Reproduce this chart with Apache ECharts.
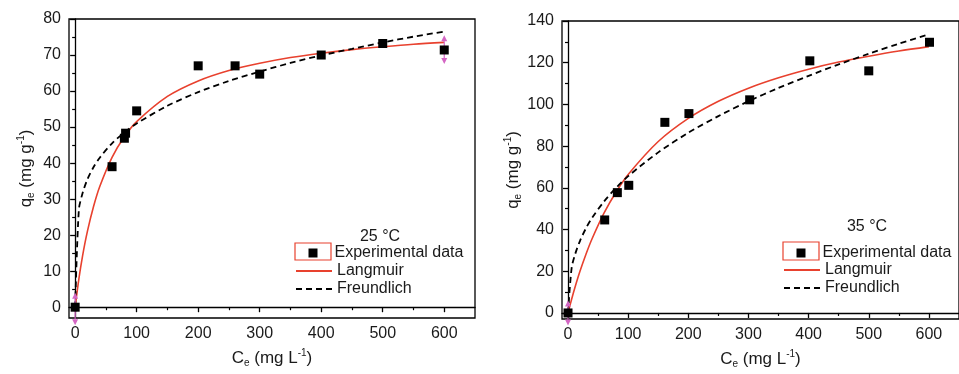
<!DOCTYPE html>
<html><head><meta charset="utf-8">
<script src="https://cdn.jsdelivr.net/npm/echarts@6/dist/echarts.min.js"></script>
<style>html,body{margin:0;padding:0;background:#fff}#c{width:959px;height:374px}</style>
</head><body><div id="c"></div>
<script>
// ---- 25 °C ----
const expX25 = [0, 60, 80, 82, 100, 200, 260, 300, 400, 500, 600];
const expY25 = [0, 39.0, 46.9, 48.3, 54.5, 67.0, 67.0, 64.7, 70.0, 73.2, 71.4];
const fitX = [0, 6, 12, 20, 30, 40, 60, 80, 100, 150, 200, 250, 300, 350, 400, 450, 500, 550, 600];
const lang25 = [0, 7.8, 14.2, 21.1, 28.0, 33.5, 41.6, 47.3, 51.5, 58.5, 62.8, 65.7, 67.7, 69.3, 70.5, 71.5, 72.3, 73.0, 73.5];
const freu25 = [0, 27.0, 31.6, 35.5, 38.9, 41.5, 45.5, 48.5, 51.0, 55.9, 59.7, 62.8, 65.4, 67.8, 69.9, 71.7, 73.5, 75.1, 76.5];
const errX25 = [0, 600];
const errLo25 = [-5, 67.5];
const errHi25 = [4, 75.5];
// ---- 35 °C ----
const expX35 = [0, 61, 82, 101, 161, 201, 302, 402, 500, 601];
const expY35 = [0, 44.6, 57.7, 61.2, 91.4, 95.6, 102.2, 120.9, 116.1, 129.8];
const lang35 = [0, 6.6, 12.7, 20.1, 28.3, 35.6, 48.0, 58.0, 66.4, 82.2, 93.3, 101.5, 107.8, 112.8, 116.9, 120.3, 123.1, 125.6, 127.7];
const freu35 = [0, 21.5, 28.3, 34.6, 40.7, 45.6, 53.5, 60.0, 65.6, 77.0, 86.4, 94.4, 101.5, 107.9, 113.7, 119.2, 124.3, 129.1, 133.6];
const errX35 = [0];
const errLo35 = [-6];
const errHi35 = [6];
// ---- ticks ----
const xTicks = [0, 100, 200, 300, 400, 500, 600];
const xMinor = [50, 150, 250, 350, 450, 550];
const yTicks25 = [0, 10, 20, 30, 40, 50, 60, 70, 80];
const yMinor25 = [5, 15, 25, 35, 45, 55, 65, 75];
const yTicks35 = [0, 20, 40, 60, 80, 100, 120, 140];
const yMinor35 = [10, 30, 50, 70, 90, 110, 130];

const zip = (a, b) => a.map((v, i) => [v, b[i]]);
const zip3 = (a, b, c) => a.map((v, i) => [v, b[i], c[i]]);
const FONT = 'Liberation Sans, Arial, sans-serif';
const TXT = '#1a1a1a';
const RED = '#e8412e';
const PINK = '#d466c4';

const richName = {
  n: { fontSize: 17, fontFamily: FONT, color: TXT },
  sub: { fontSize: 10, fontFamily: FONT, color: TXT, padding: [10, 0, 0, 0] },
  sup: { fontSize: 10, fontFamily: FONT, color: TXT, padding: [0, 0, 10, 0] }
};

function mainX(grid) {
  return {
    gridIndex: grid, type: 'value', min: -10, max: 650,
    axisLine: { show: true, lineStyle: { color: '#000', width: 1.3 } },
    axisTick: { show: true, customValues: xTicks, length: 5, lineStyle: { color: '#000', width: 1.3 } },
    axisLabel: { customValues: xTicks, fontSize: 16, fontFamily: FONT, color: TXT, margin: 8 },
    splitLine: { show: false },
    name: '{n|C}{sub|e}{n| (mg L}{sup|-1}{n|)}',
    nameLocation: 'middle', nameGap: 30,
    nameTextStyle: { rich: richName }
  };
}
function minorX(grid) {
  return {
    gridIndex: grid, type: 'value', min: -10, max: 650, position: 'bottom',
    axisLine: { show: false },
    axisTick: { show: true, customValues: xMinor, length: 3, lineStyle: { color: '#000', width: 1.2 } },
    axisLabel: { show: false }, splitLine: { show: false }
  };
}
function mainY(grid, min, max, ticks) {
  return {
    gridIndex: grid, type: 'value', min: min, max: max, position: 'left',
    axisLine: { show: true, lineStyle: { color: '#000', width: 1.3 } },
    axisTick: { show: true, customValues: ticks, length: 5, lineStyle: { color: '#000', width: 1.3 } },
    axisLabel: { customValues: ticks, fontSize: 16, fontFamily: FONT, color: TXT, margin: 8 },
    splitLine: { show: false },
    name: '{n|q}{sub|e}{n| (mg g}{sup|-1}{n|)}',
    nameLocation: 'middle', nameRotate: 90, nameGap: 33,
    nameTextStyle: { rich: richName }
  };
}
function minorY(grid, min, max, ticks) {
  return {
    gridIndex: grid, type: 'value', min: min, max: max, position: 'left', offset: 0,
    axisLine: { show: false },
    axisTick: { show: true, customValues: ticks, length: 3, lineStyle: { color: '#000', width: 1.2 } },
    axisLabel: { show: false }, splitLine: { show: false }
  };
}

function errRender(params, api) {
  const x = api.value(0), lo = api.value(1), hi = api.value(2);
  const p1 = api.coord([x, lo]);
  const p2 = api.coord([x, hi]);
  const w = 3, h = 6;
  return {
    type: 'group',
    children: [
      { type: 'line', shape: { x1: p1[0], y1: p1[1] - h, x2: p2[0], y2: p2[1] + h }, style: { stroke: PINK, lineWidth: 1.2 } },
      { type: 'polygon', shape: { points: [[p2[0], p2[1]], [p2[0] - w, p2[1] + h], [p2[0] + w, p2[1] + h]] }, style: { fill: PINK } },
      { type: 'polygon', shape: { points: [[p1[0], p1[1]], [p1[0] - w, p1[1] - h], [p1[0] + w, p1[1] - h]] }, style: { fill: PINK } }
    ]
  };
}

function seriesFor(idx, ex, ey, lang, freu, errData) {
  return [
    { name: 'Langmuir', type: 'line', xAxisIndex: idx * 2, yAxisIndex: idx * 2, data: zip(fitX, lang),
      symbol: 'none', smooth: 0.3, lineStyle: { color: RED, width: 1.6 }, itemStyle: { color: RED }, z: 3 },
    { name: 'Freundlich', type: 'line', xAxisIndex: idx * 2, yAxisIndex: idx * 2, data: zip(fitX, freu),
      symbol: 'none', smooth: 0.3, lineStyle: { color: '#000', width: 1.8, type: [6, 4] }, itemStyle: { color: '#000' }, z: 3 },
    { name: 'err' + idx, type: 'custom', xAxisIndex: idx * 2, yAxisIndex: idx * 2, data: errData,
      renderItem: errRender, clip: false, z: 4, silent: true },
    { name: 'Experimental data', type: 'scatter', xAxisIndex: idx * 2, yAxisIndex: idx * 2, data: zip(ex, ey),
      symbol: 'rect', symbolSize: 9, itemStyle: { color: '#000', opacity: 1 }, z: 5 }
  ];
}

function legendsFor(sqLeft, expCenterY, lineLeft, lineTop) {
  return [
    { orient: 'vertical', left: sqLeft, top: expCenterY - 7, padding: 0, itemWidth: 9, itemHeight: 9,
      data: [{ name: 'Experimental data', icon: 'rect' }], selectedMode: false,
      textStyle: { fontSize: 16, fontFamily: FONT, color: TXT, padding: [0, 0, 0, 12] } },
    { orient: 'vertical', left: lineLeft, top: lineTop, padding: 0, itemWidth: 36, itemHeight: 14, itemGap: 2,
      data: ['Langmuir', 'Freundlich'], selectedMode: false,
      itemStyle: { color: 'rgba(0,0,0,0)', borderColor: 'rgba(0,0,0,0)', borderWidth: 0, opacity: 0 },
      textStyle: { fontSize: 16, fontFamily: FONT, color: TXT } }
  ];
}

const chart = echarts.init(document.getElementById('c'), null, { renderer: 'canvas' });
chart.setOption({
  animation: false,
  backgroundColor: '#fff',
  grid: [
    { left: 69, top: 19, width: 406, height: 299, show: true, borderColor: '#000', borderWidth: 1.3, containLabel: false },
    { left: 562, top: 21, width: 406, height: 299, show: true, borderColor: '#000', borderWidth: 1.3, containLabel: false }
  ],
  xAxis: [mainX(0), minorX(0), mainX(1), minorX(1)],
  yAxis: [mainY(0, -3, 80, yTicks25), minorY(0, -3, 80, yMinor25), mainY(1, -2.9, 140, yTicks35), minorY(1, -2.9, 140, yMinor35)],
  legend: [].concat(legendsFor(308.5, 252, 295, 263), legendsFor(796.5, 252, 783, 262)),
  graphic: [
    { type: 'rect', shape: { x: 295, y: 243, width: 36, height: 17 }, style: { fill: 'none', stroke: RED, lineWidth: 1.2 } },
    { type: 'text', x: 380, y: 237, style: { text: '25 °C', fontSize: 16, fontFamily: FONT, fill: TXT, align: 'center', verticalAlign: 'middle' } },
    { type: 'rect', shape: { x: 783, y: 242, width: 36, height: 18 }, style: { fill: 'none', stroke: RED, lineWidth: 1.2 } },
    { type: 'text', x: 867, y: 227, style: { text: '35 °C', fontSize: 16, fontFamily: FONT, fill: TXT, align: 'center', verticalAlign: 'middle' } }
  ],
  series: [].concat(
    seriesFor(0, expX25, expY25, lang25, freu25, zip3(errX25, errLo25, errHi25)),
    seriesFor(1, expX35, expY35, lang35, freu35, zip3(errX35, errLo35, errHi35))
  )
});
</script>
</body></html>
